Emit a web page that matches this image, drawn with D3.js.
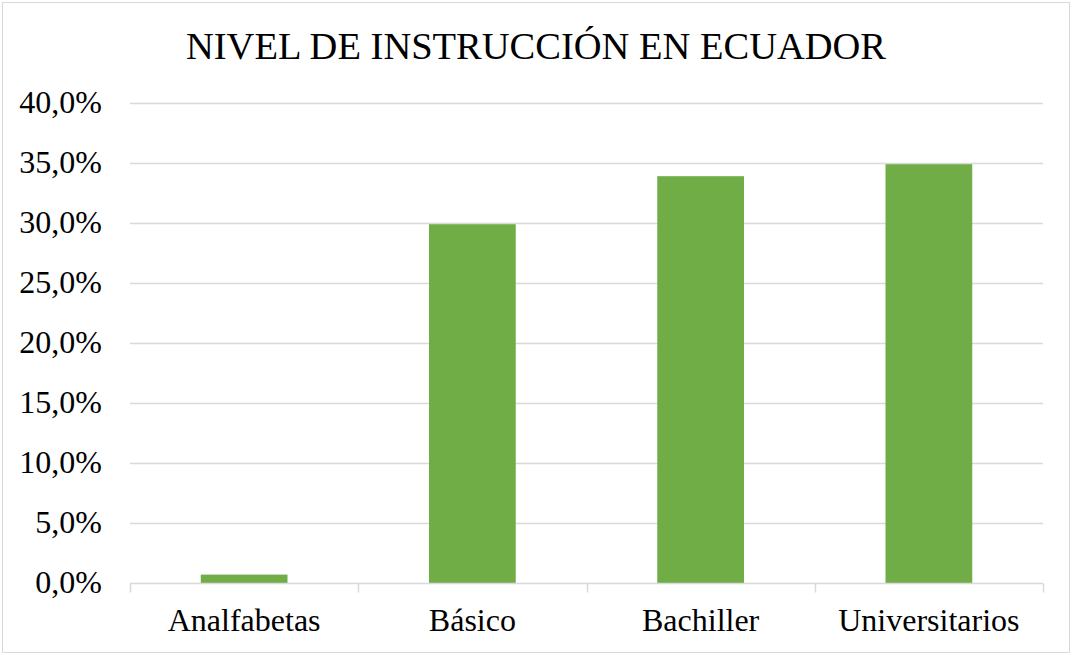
<!DOCTYPE html>
<html>
<head>
<meta charset="utf-8">
<script src="https://cdn.jsdelivr.net/npm/d3@7"></script>
<style>
  body { margin: 0; background: #fff; }
  svg { display: block; font-family: "Liberation Serif", "Times New Roman", serif; }
</style>
</head>
<body>
<svg id="chart" width="1072" height="655"></svg>
<script>
const categories = ["Analfabetas", "Básico", "Bachiller", "Universitarios"];
const values = [0.7, 29.9, 33.9, 34.9];
const yTicks = [0, 5, 10, 15, 20, 25, 30, 35, 40];
const title = "NIVEL DE INSTRUCCIÓN EN ECUADOR";

const W = 1072, H = 655;
const m = { t: 103, r: 29, b: 72, l: 130 };
const svg = d3.select("#chart");

// outer frame
svg.append("rect").attr("x", 2.5).attr("y", 2.5).attr("width", W - 5).attr("height", H - 5)
  .attr("fill", "#fff").attr("stroke", "#d9d9d9").attr("stroke-width", 1);

const x = d3.scaleBand().domain(categories).range([m.l, W - m.r]).paddingInner(0.62).paddingOuter(0.31);
const y = d3.scaleLinear().domain([0, 40]).range([H - m.b, m.t]);
const fmt = (v) => v.toFixed(1).replace(".", ",") + "%";

// gridlines
svg.append("g").selectAll("line").data(yTicks.filter((v) => v > 0)).join("line")
  .attr("x1", m.l).attr("x2", W - m.r)
  .attr("y1", (d) => Math.round(y(d)) + 0.5).attr("y2", (d) => Math.round(y(d)) + 0.5)
  .attr("stroke", "#d9d9d9").attr("stroke-width", 1.5);

// y labels
svg.append("g").selectAll("text").data(yTicks).join("text")
  .attr("x", 102).attr("y", (d) => y(d) + 10)
  .attr("text-anchor", "end").attr("font-size", 32).attr("fill", "#000")
  .text(fmt);

// bars
svg.append("g").selectAll("rect").data(values).join("rect")
  .attr("x", (d, i) => x(categories[i])).attr("width", x.bandwidth())
  .attr("y", (d) => y(d)).attr("height", (d) => y(0) - y(d))
  .attr("fill", "#70ad47");

// x axis line + boundary ticks
const base = Math.round(y(0)) + 0.5;
svg.append("line").attr("x1", m.l).attr("x2", W - m.r).attr("y1", base).attr("y2", base)
  .attr("stroke", "#d9d9d9").attr("stroke-width", 1.5);
const bounds = d3.range(categories.length + 1).map((i) => m.l + i * (W - m.r - m.l) / categories.length);
svg.append("g").selectAll("line").data(bounds).join("line")
  .attr("x1", (d) => Math.round(d) + 0.5).attr("x2", (d) => Math.round(d) + 0.5)
  .attr("y1", base).attr("y2", base + 9)
  .attr("stroke", "#d9d9d9").attr("stroke-width", 1.5);

// category labels
svg.append("g").selectAll("text").data(categories).join("text")
  .attr("x", (d) => x(d) + x.bandwidth() / 2).attr("y", 631)
  .attr("text-anchor", "middle").attr("font-size", 32).attr("fill", "#000")
  .text((d) => d);

// title
svg.append("text").attr("x", W / 2).attr("y", 59).attr("text-anchor", "middle")
  .attr("font-size", 38.5).attr("fill", "#000").text(title);
</script>
</body>
</html>
